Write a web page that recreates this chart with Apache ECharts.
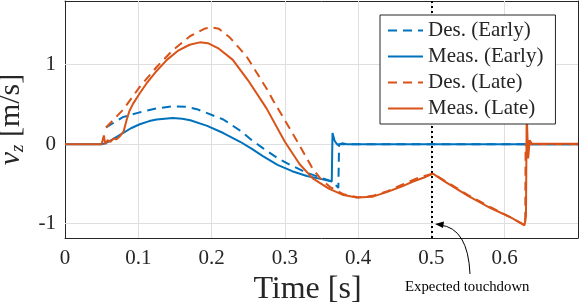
<!DOCTYPE html>
<html><head><meta charset="utf-8">
<script src="https://cdn.jsdelivr.net/npm/echarts@6/dist/echarts.min.js"></script>
<style>html,body{margin:0;padding:0;background:#fff}#c{width:581px;height:306px}</style>
</head><body><div id="c"></div>
<script>
const xTicks = [0, 0.1, 0.2, 0.3, 0.4, 0.5, 0.6, 0.7];
const yTicks = [-1, 0, 1];
const touchdownTime = 0.5;
const seriesNames = ['Des. (Early)', 'Meas. (Early)', 'Des. (Late)', 'Meas. (Late)'];

const desEarly = [[0.056,0.21],[0.079,0.34],[0.102,0.40],[0.125,0.45],[0.147,0.475],[0.165,0.47],[0.18,0.44],[0.194,0.39],[0.216,0.31],[0.239,0.17],[0.255,0.05],[0.27,-0.05],[0.289,-0.17],[0.307,-0.26],[0.33,-0.36],[0.352,-0.43],[0.365,-0.47],[0.373,-0.55],[0.374,0],[0.7,0]];

const measEarly = [[0,0],[0.05,0],[0.055,0.01],[0.065,0.06],[0.079,0.14],[0.09,0.2],[0.102,0.25],[0.115,0.29],[0.125,0.31],[0.147,0.33],[0.16,0.32],[0.171,0.30],[0.194,0.23],[0.216,0.14],[0.239,0.03],[0.255,-0.06],[0.27,-0.15],[0.29,-0.26],[0.31,-0.34],[0.33,-0.40],[0.35,-0.44],[0.364,-0.47],[0.365,0.14],[0.368,0.04],[0.372,-0.01],[0.378,0.01],[0.385,0],[0.7,0]];

const desLate = [[0.056,0.21],[0.079,0.43],[0.102,0.72],[0.125,0.97],[0.147,1.18],[0.171,1.36],[0.19,1.45],[0.2,1.47],[0.21,1.45],[0.225,1.34],[0.248,1.10],[0.275,0.70],[0.284,0.55],[0.3,0.30],[0.316,0.05],[0.338,-0.31],[0.35,-0.45],[0.362,-0.54],[0.38,-0.63],[0.4,-0.67],[0.42,-0.65],[0.44,-0.59],[0.46,-0.51],[0.48,-0.43],[0.502,-0.37],[0.52,-0.47],[0.55,-0.64],[0.58,-0.79],[0.61,-0.93],[0.628,-1.02],[0.6285,0],[0.7,0]];

const measLate = [[0,0],[0.05,0],[0.052,0],[0.053,0.11],[0.055,0],[0.058,0.05],[0.062,0.03],[0.066,0.07],[0.07,0.06],[0.075,0.1],[0.08,0.16],[0.084,0.3],[0.088,0.42],[0.093,0.51],[0.102,0.64],[0.111,0.76],[0.125,0.92],[0.139,1.06],[0.155,1.18],[0.17,1.25],[0.184,1.28],[0.195,1.27],[0.21,1.2],[0.229,1.06],[0.25,0.8],[0.275,0.45],[0.3,0.03],[0.32,-0.25],[0.338,-0.43],[0.36,-0.56],[0.38,-0.64],[0.398,-0.67],[0.42,-0.66],[0.44,-0.60],[0.46,-0.53],[0.475,-0.47],[0.49,-0.42],[0.502,-0.37],[0.52,-0.48],[0.55,-0.65],[0.58,-0.8],[0.61,-0.93],[0.627,-1.02],[0.629,-0.9],[0.630,0.4],[0.632,-0.18],[0.634,0.05],[0.637,0.005],[0.7,0.005]];

const BLUE = '#0072BD', ORANGE = '#D95319', AX = '#262626', GRID = '#dfdfdf';
const FONT = 'Liberation Serif';

const chart = echarts.init(document.getElementById('c'), null, {renderer: 'canvas'});

function lineSeries(name, data, color, dashed) {
  return {
    name, type: 'line', data, symbol: 'none', showSymbol: false, animation: false, z: 5,
    lineStyle: {color, width: 2, type: dashed ? [9, 6] : 'solid'},
    itemStyle: {color}
  };
}
function axLine() { return {show: true, onZero: false, lineStyle: {color: AX, width: 1}}; }
function axTick(custom) {
  const t = {show: true, inside: true, length: 5, lineStyle: {color: AX}};
  if (custom) t.customValues = custom;
  return t;
}

const option = {
  animation: false,
  backgroundColor: '#fff',
  grid: {left: 65, right: 3, top: 1, bottom: 68, outerBoundsMode: 'none', containLabel: false},
  legend: {
    data: seriesNames,
    orient: 'vertical', left: 380, top: 15, z: 20,
    backgroundColor: '#fff', borderColor: AX, borderWidth: 1, borderRadius: 0,
    padding: [5, 12, 5, 7], itemGap: 5, itemWidth: 35, itemHeight: 16,
    itemStyle: {opacity: 0},
    textStyle: {fontFamily: FONT, fontSize: 21, color: AX}
  },
  xAxis: [{
    type: 'value', min: xTicks[0], max: xTicks[xTicks.length-1], interval: 0.1, position: 'bottom',
    name: 'Time [s]', nameLocation: 'middle', nameGap: 25,
    nameTextStyle: {fontFamily: FONT, fontSize: 32, color: AX, padding: [0, 28, 0, 0]},
    axisLine: axLine(), axisTick: axTick(),
    axisLabel: {fontFamily: FONT, fontSize: 21, color: AX, margin: 10, showMaxLabel: false},
    splitLine: {show: false}
  }, {
    type: 'value', min: xTicks[0], max: xTicks[xTicks.length-1], interval: 0.1, position: 'top',
    axisLine: axLine(), axisTick: axTick(),
    axisLabel: {show: false}, splitLine: {show: false}
  }],
  yAxis: [{
    type: 'value', min: -1.18, max: 1.8, position: 'left',
    name: '{i|v}{s|z} [m/s]', nameLocation: 'middle', nameGap: 30,
    nameTextStyle: {fontFamily: FONT, fontSize: 30, color: AX,
      rich: {i: {fontFamily: FONT, fontSize: 30, fontStyle: 'italic', color: AX},
             s: {fontFamily: FONT, fontSize: 19, fontStyle: 'italic', color: AX, padding: [14, 0, 0, 0]}}},
    axisLine: axLine(), axisTick: axTick(yTicks),
    axisLabel: {fontFamily: FONT, fontSize: 21, color: AX, margin: 9, customValues: yTicks},
    splitLine: {show: false}
  }, {
    type: 'value', min: -1.18, max: 1.8, position: 'right',
    axisLine: axLine(), axisTick: axTick(yTicks),
    axisLabel: {show: false, customValues: yTicks}, splitLine: {show: false}
  }],
  series: [
    {
      name: 'grid', type: 'line', data: [[0, 0]], symbol: 'none', lineStyle: {opacity: 0}, z: 0,
      markLine: {silent: true, symbol: 'none', label: {show: false}, animation: false,
        lineStyle: {color: GRID, type: 'solid', width: 1},
        data: yTicks.map(v => ({yAxis: v})).concat(xTicks.slice(1, -1).map(v => ({xAxis: v})))}
    },
    lineSeries(seriesNames[0], desEarly, BLUE, true),
    lineSeries(seriesNames[1], measEarly, BLUE, false),
    lineSeries(seriesNames[2], desLate, ORANGE, true),
    lineSeries(seriesNames[3], measLate, ORANGE, false),
    {
      name: 'touchdown', type: 'line', data: [[0.5, 0]], symbol: 'none', lineStyle: {opacity: 0}, z: 6,
      markLine: {silent: true, symbol: 'none', label: {show: false}, animation: false,
        lineStyle: {color: '#000', type: [2, 3], width: 2},
        data: [{xAxis: touchdownTime}]}
    }
  ],
  graphic: [
    {type: 'text', left: 405, top: 280, z: 10,
     style: {text: 'Expected touchdown', fontFamily: FONT, fontSize: 14.8, fill: '#000'}},
    {type: 'bezierCurve', z: 10,
     shape: {x1: 470, y1: 274, cpx1: 468, cpy1: 228, x2: 440, y2: 225},
     style: {stroke: '#000', lineWidth: 1, fill: 'none'}},
    {type: 'polygon', z: 10,
     shape: {points: [[435, 224], [444, 221.5], [443, 228]]},
     style: {fill: '#000'}}
  ]
};
chart.setOption(option);
</script>
</body></html>
